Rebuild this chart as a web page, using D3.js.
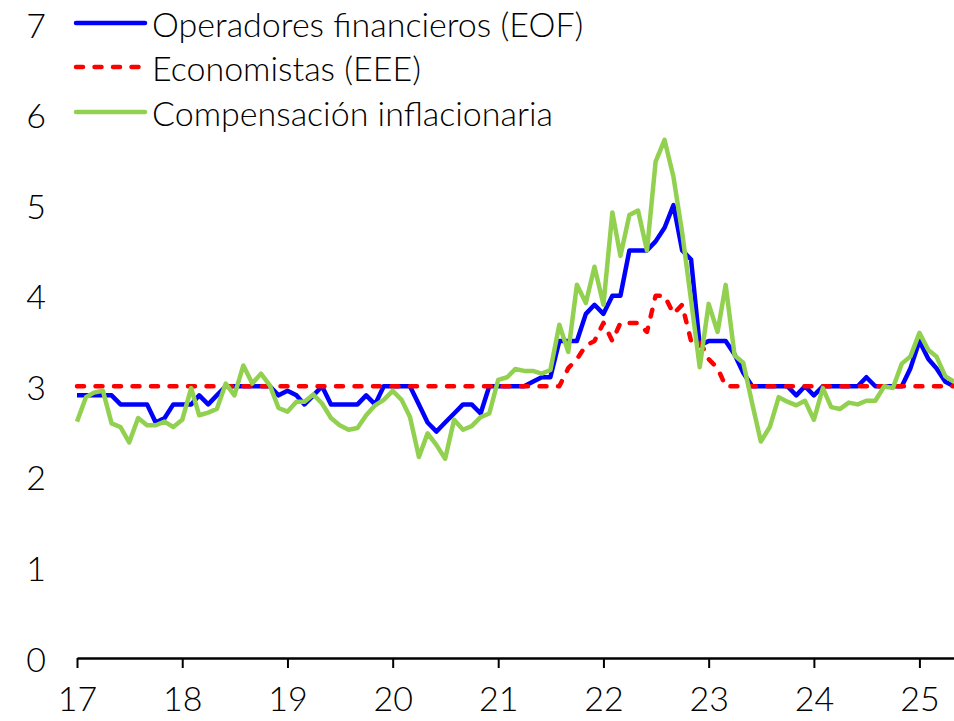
<!DOCTYPE html>
<html>
<head>
<meta charset="utf-8">
<script src="https://cdn.jsdelivr.net/npm/d3@7"></script>
<style>
  html, body { margin: 0; padding: 0; background: #fff; }
  svg { display: block; }
  text { font-family: Lato, "Open Sans", sans-serif; font-weight: 300; fill: #000; }
</style>
</head>
<body>
<svg id="chart" width="954" height="721"></svg>
<script>
// Monthly observations, January 2017 to May 2025
const startMonth = new Date(2017, 0, 1);
const endMonth = new Date(2025, 5, 1);

// Operadores financieros (EOF)
const eof = [
  2.9, 2.9, 2.9, 2.9, 2.9, 2.8, 2.8, 2.8, 2.8, 2.6, 2.65, 2.8,
  2.8, 2.8, 2.9, 2.8, 2.9, 3.0, 3.0, 3.0, 3.0, 3.0, 3.0, 2.9,
  2.95, 2.9, 2.8, 2.9, 3.0, 2.8, 2.8, 2.8, 2.8, 2.9, 2.8, 3.0,
  3.0, 3.0, 3.0, 2.8, 2.6, 2.5, 2.6, 2.7, 2.8, 2.8, 2.7, 3.0,
  3.0, 3.0, 3.0, 3.0, 3.05, 3.1, 3.1, 3.5, 3.5, 3.5, 3.8, 3.9,
  3.8, 4.0, 4.0, 4.5, 4.5, 4.5, 4.6, 4.75, 5.0, 4.5, 4.4, 3.45,
  3.5, 3.5, 3.5, 3.35, 3.15, 3.0, 3.0, 3.0, 3.0, 3.0, 2.9, 3.0,
  2.9, 3.0, 3.0, 3.0, 3.0, 3.0, 3.1, 3.0, 3.0, 3.0, 3.0, 3.2,
  3.5, 3.3, 3.2, 3.05, 3.0
];

// Economistas (EEE)
const eee = [
  3.0, 3.0, 3.0, 3.0, 3.0, 3.0, 3.0, 3.0, 3.0, 3.0, 3.0, 3.0,
  3.0, 3.0, 3.0, 3.0, 3.0, 3.0, 3.0, 3.0, 3.0, 3.0, 3.0, 3.0,
  3.0, 3.0, 3.0, 3.0, 3.0, 3.0, 3.0, 3.0, 3.0, 3.0, 3.0, 3.0,
  3.0, 3.0, 3.0, 3.0, 3.0, 3.0, 3.0, 3.0, 3.0, 3.0, 3.0, 3.0,
  3.0, 3.0, 3.0, 3.0, 3.0, 3.0, 3.0, 3.0, 3.2, 3.3, 3.45, 3.5,
  3.7, 3.5, 3.7, 3.7, 3.7, 3.6, 4.0, 4.0, 3.8, 3.9, 3.5, 3.5,
  3.3, 3.2, 3.0, 3.0, 3.0, 3.0, 3.0, 3.0, 3.0, 3.0, 3.0, 3.0,
  3.0, 3.0, 3.0, 3.0, 3.0, 3.0, 3.0, 3.0, 3.0, 3.0, 3.0, 3.0,
  3.0, 3.0, 3.0, 3.0, 3.0
];

// Compensación inflacionaria
const comp = [
  2.61, 2.88, 2.93, 2.95, 2.59, 2.55, 2.38, 2.65, 2.57, 2.57, 2.61, 2.55,
  2.63, 2.98, 2.68, 2.71, 2.75, 3.03, 2.9, 3.23, 3.03, 3.14, 3.01, 2.76,
  2.72, 2.83, 2.83, 2.91, 2.81, 2.65, 2.57, 2.52, 2.54, 2.68, 2.79, 2.85,
  2.95, 2.85, 2.66, 2.22, 2.48, 2.35, 2.2, 2.63, 2.52, 2.56, 2.66, 2.7,
  3.07, 3.1, 3.19, 3.17, 3.17, 3.14, 3.18, 3.68, 3.38, 4.12, 3.92, 4.32,
  3.9, 4.92, 4.44, 4.89, 4.94, 4.5, 5.48, 5.72, 5.31, 4.7, 3.95, 3.21,
  3.91, 3.6, 4.12, 3.34, 3.26, 2.81, 2.39, 2.55, 2.88, 2.83, 2.79, 2.84,
  2.63, 2.98, 2.77, 2.75, 2.82, 2.8, 2.84, 2.84, 3.0, 2.98, 3.25, 3.33,
  3.59, 3.4, 3.33, 3.11, 3.05
];

const yTicks = [0, 1, 2, 3, 4, 5, 6, 7];
const xTickYears = [2017, 2018, 2019, 2020, 2021, 2022, 2023, 2024, 2025];

const seriesNames = ["Operadores financieros (EOF)", "Economistas (EEE)", "Compensación inflacionaria"];
const seriesColors = ["#0000FF", "#FF0000", "#92D050"];

const months = d3.timeMonth.range(startMonth, endMonth);

const svg = d3.select("#chart");

const x = d3.scaleTime()
  .domain([startMonth, new Date(2025, 4, 1)])
  .range([77, 954]);

const y = d3.scaleLinear()
  .domain([0, 7])
  .range([658, 24]);

const fontSize = 34;

// Y-axis labels (no axis line)
svg.append("g")
  .selectAll("text")
  .data(yTicks)
  .join("text")
  .attr("x", 36)
  .attr("y", d => y(d))
  .attr("text-anchor", "middle")
  .attr("dominant-baseline", "central")
  .style("font-size", fontSize + "px")
  .text(d => d);

// X axis along the zero line
const xAxis = d3.axisBottom(x)
  .tickValues(xTickYears.map(yr => new Date(yr, 0, 1)))
  .tickFormat(d3.timeFormat("%y"))
  .tickSizeInner(10)
  .tickSizeOuter(0)
  .tickPadding(19);

const gx = svg.append("g")
  .attr("transform", `translate(0,${y(0)})`)
  .call(xAxis);
gx.attr("font-family", null).attr("font-size", null);
gx.select(".domain").attr("stroke", "#000").attr("stroke-width", 2.5);
gx.selectAll(".tick line").attr("stroke", "#000").attr("stroke-width", 2);
gx.selectAll(".tick text")
  .style("font-size", fontSize + "px");

// Series lines
const line = d3.line()
  .x((d, i) => x(months[i]))
  .y(d => y(d));

const seriesData = [eof, eee, comp];
const dashes = [null, "7,11.5", null];
const caps = ["butt", "round", "butt"];

svg.append("g")
  .selectAll("path")
  .data(seriesData)
  .join("path")
  .attr("fill", "none")
  .attr("stroke", (d, i) => seriesColors[i])
  .attr("stroke-width", 4.5)
  .attr("stroke-linejoin", "round")
  .attr("stroke-linecap", (d, i) => caps[i])
  .attr("stroke-dasharray", (d, i) => dashes[i])
  .attr("d", line);

// Legend
const legend = svg.append("g");
const legendY = [23, 67, 112];
seriesNames.forEach((name, i) => {
  legend.append("line")
    .attr("x1", 76).attr("x2", 145)
    .attr("y1", legendY[i]).attr("y2", legendY[i])
    .attr("stroke", seriesColors[i])
    .attr("stroke-width", 4.5)
    .attr("stroke-linecap", "round")
    .attr("stroke-dasharray", dashes[i]);
  legend.append("text")
    .attr("x", 152)
    .attr("y", legendY[i])
    .attr("dominant-baseline", "central")
    .style("font-size", fontSize + "px")
    .text(name);
});
</script>
</body>
</html>
